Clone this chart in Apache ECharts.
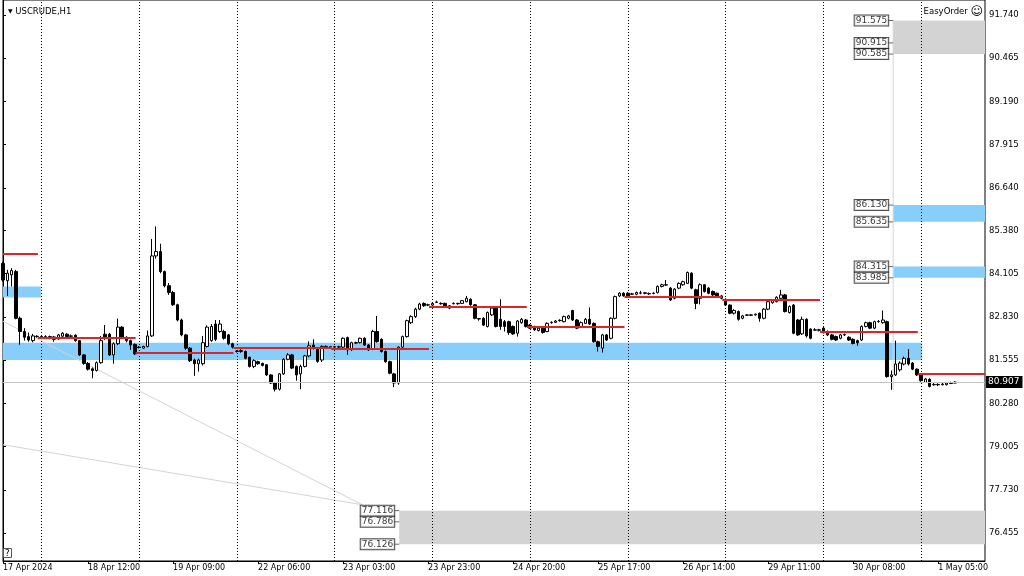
<!DOCTYPE html>
<html>
<head>
<meta charset="utf-8">
<script src="https://cdn.jsdelivr.net/npm/echarts@6/dist/echarts.min.js"></script>
<style>
  html, body { margin: 0; padding: 0; background: #fff; }
  #chart { width: 1024px; height: 576px; }
</style>
</head>
<body>
<div id="chart"></div>
<script>
// hourly candles, one array per trading day: [open, close, low, high]
const APR_17 = [
  [84.41, 83.92, 83.87, 84.46], [83.90, 84.12, 83.45, 84.22], [84.07, 84.20, 83.73, 84.27],
  [84.17, 82.79, 82.76, 84.22], [82.79, 82.40, 82.01, 82.84], [82.40, 82.23, 82.13, 82.50],
  [82.25, 82.15, 82.10, 82.37], [82.13, 82.27, 82.08, 82.33], [82.26, 82.25, 82.22, 82.29],
];
const APR_18 = [
  [82.25, 82.24, 82.20, 82.28], [82.24, 82.25, 82.21, 82.29], [82.25, 82.20, 82.17, 82.28],
  [82.24, 82.17, 82.10, 82.27], [82.18, 82.30, 82.16, 82.33], [82.26, 82.35, 82.24, 82.38],
  [82.32, 82.25, 82.22, 82.35], [82.26, 82.27, 82.22, 82.31], [82.29, 82.13, 82.10, 82.32],
  [82.13, 81.71, 81.68, 82.15], [81.71, 81.46, 81.42, 81.73], [81.46, 81.29, 81.25, 81.50],
  [81.30, 81.25, 81.02, 81.34], [81.25, 81.48, 81.22, 81.52], [81.48, 82.13, 81.45, 82.27],
  [82.32, 82.24, 82.15, 82.59], [82.32, 81.71, 81.68, 82.36], [81.71, 82.04, 81.45, 82.08],
  [82.04, 82.53, 82.00, 82.78], [82.53, 82.23, 82.20, 82.56], [82.23, 82.13, 82.08, 82.26],
  [82.13, 82.00, 81.86, 82.16], [82.02, 81.74, 81.71, 82.05],
];
const APR_19 = [
  [81.94, 81.93, 81.90, 81.97], [81.91, 81.96, 81.89, 81.98], [81.96, 82.27, 81.93, 82.43],
  [82.27, 84.63, 82.24, 85.13], [84.63, 84.76, 84.55, 85.50], [84.76, 84.17, 84.12, 84.99],
  [84.17, 83.75, 83.70, 84.20], [83.75, 83.55, 83.48, 83.83], [83.55, 83.19, 83.15, 83.60],
  [83.19, 82.74, 82.70, 83.22], [82.74, 82.30, 82.26, 82.78], [82.30, 81.91, 81.86, 82.33],
  [81.91, 81.54, 81.50, 81.94], [81.56, 81.45, 81.09, 81.60], [81.45, 81.56, 81.22, 81.60],
  [81.45, 82.07, 81.40, 82.27], [81.96, 82.53, 81.93, 82.58], [82.13, 82.55, 82.10, 82.62],
  [82.62, 82.17, 82.12, 82.74], [82.40, 82.62, 82.36, 82.74], [82.40, 82.20, 82.16, 82.45],
  [82.30, 82.04, 82.00, 82.33], [82.04, 81.94, 81.90, 82.07],
];
const APR_22 = [
  [81.82, 81.81, 81.78, 81.85], [81.81, 81.84, 81.77, 81.88], [81.81, 81.61, 81.58, 81.84],
  [81.64, 81.37, 81.34, 81.66], [81.37, 81.54, 81.32, 81.58], [81.51, 81.45, 81.42, 81.54],
  [81.46, 81.40, 81.37, 81.48], [81.42, 81.12, 81.09, 81.44], [81.12, 80.88, 80.85, 81.14],
  [80.88, 80.70, 80.63, 80.90], [80.70, 81.15, 80.66, 81.17], [81.15, 81.58, 81.12, 81.61],
  [81.58, 81.71, 81.55, 81.76], [81.71, 81.32, 81.29, 81.74], [81.37, 81.12, 80.95, 81.40],
  [81.15, 81.37, 80.70, 81.42], [81.37, 81.68, 81.34, 81.71], [81.68, 81.98, 81.64, 82.11],
  [82.00, 81.90, 81.87, 82.17], [81.91, 81.52, 81.48, 81.94], [81.56, 81.96, 81.50, 81.99],
  [81.93, 81.96, 81.91, 81.99], [81.95, 81.94, 81.92, 81.97],
];
const APR_23 = [
  [81.95, 81.94, 81.91, 81.97], [81.94, 81.95, 81.91, 81.98], [81.94, 82.20, 81.91, 82.23],
  [82.22, 81.86, 81.71, 82.25], [81.86, 82.07, 81.83, 82.10], [82.07, 82.06, 82.03, 82.10],
  [82.07, 82.20, 82.05, 82.22], [82.20, 82.00, 81.97, 82.23], [82.00, 81.86, 81.83, 82.03],
  [81.88, 82.40, 81.85, 82.45], [82.40, 82.10, 82.07, 82.86], [82.17, 81.81, 81.78, 82.20],
  [81.81, 81.51, 81.48, 81.84], [81.51, 81.17, 81.14, 81.54], [81.15, 80.88, 80.76, 81.18],
  [80.88, 81.94, 80.83, 81.96], [81.94, 82.25, 81.91, 82.28], [82.25, 82.72, 82.22, 82.75],
  [82.66, 82.84, 82.62, 82.88], [82.84, 83.06, 82.80, 83.10], [83.06, 83.21, 83.03, 83.25],
  [83.23, 83.16, 83.13, 83.26], [83.18, 83.19, 83.15, 83.22],
];
const APR_24 = [
  [83.18, 83.23, 83.16, 83.26], [83.26, 83.27, 83.24, 83.31], [83.23, 83.22, 83.19, 83.26],
  [83.23, 83.12, 83.09, 83.25], [83.09, 83.16, 83.06, 83.18], [83.22, 83.23, 83.20, 83.26],
  [83.23, 83.22, 83.19, 83.25], [83.23, 83.31, 83.21, 83.33], [83.28, 83.38, 83.26, 83.45],
  [83.35, 83.19, 83.16, 83.38], [83.19, 82.79, 82.76, 83.21], [82.78, 82.77, 82.72, 82.80],
  [82.79, 82.59, 82.56, 82.82], [82.55, 82.96, 82.52, 82.99], [82.89, 83.09, 82.86, 83.12],
  [83.09, 82.55, 82.52, 83.12], [82.76, 82.55, 82.45, 83.35], [82.69, 82.55, 82.40, 82.74],
  [82.69, 82.37, 82.30, 82.72], [82.55, 82.33, 82.30, 82.58], [82.35, 82.71, 82.25, 82.74],
  [82.66, 82.76, 82.63, 82.80], [82.74, 82.55, 82.52, 82.77],
];
const APR_25 = [
  [82.59, 82.50, 82.47, 82.62], [82.55, 82.45, 82.42, 82.57], [82.43, 82.50, 82.40, 82.53],
  [82.50, 82.37, 82.34, 82.52], [82.40, 82.64, 82.38, 82.67], [82.66, 82.67, 82.63, 82.70],
  [82.67, 82.71, 82.65, 82.74], [82.72, 82.73, 82.69, 82.76], [82.69, 82.84, 82.67, 82.87],
  [82.79, 82.86, 82.76, 82.89], [83.02, 82.74, 82.71, 83.04], [82.74, 82.50, 82.47, 82.77],
  [82.55, 82.66, 82.52, 82.70], [82.64, 82.76, 82.62, 82.80], [82.76, 82.62, 82.59, 83.11],
  [82.64, 82.10, 82.07, 82.67], [82.10, 81.96, 81.81, 82.13], [81.91, 82.30, 81.78, 82.33],
  [82.30, 82.15, 82.12, 82.33], [82.20, 82.79, 82.17, 82.82], [82.79, 83.43, 82.76, 83.46],
  [83.45, 83.53, 83.42, 83.56], [83.53, 83.45, 83.43, 83.56],
];
const APR_26 = [
  [83.53, 83.43, 83.40, 83.56], [83.50, 83.51, 83.48, 83.54], [83.50, 83.55, 83.47, 83.58],
  [83.53, 83.54, 83.50, 83.60], [83.54, 83.53, 83.50, 83.56], [83.52, 83.51, 83.48, 83.55],
  [83.52, 83.53, 83.50, 83.56], [83.55, 83.73, 83.52, 83.76], [83.73, 83.78, 83.70, 83.81],
  [83.78, 83.77, 83.74, 83.92], [83.68, 83.33, 83.30, 83.71], [83.38, 83.65, 83.35, 83.68],
  [83.68, 83.82, 83.65, 83.85], [83.78, 83.87, 83.75, 83.90], [83.82, 84.14, 83.80, 84.17],
  [84.12, 83.68, 83.65, 84.15], [83.63, 83.23, 83.06, 83.66], [83.38, 83.78, 83.20, 83.82],
  [83.78, 83.58, 83.55, 83.80], [83.68, 83.53, 83.50, 83.71], [83.58, 83.48, 83.45, 83.61],
  [83.53, 83.43, 83.40, 83.55], [83.45, 83.38, 83.35, 83.48],
];
const APR_29 = [
  [83.35, 83.18, 83.15, 83.38], [83.18, 82.94, 82.91, 83.20], [82.94, 83.02, 82.90, 83.06],
  [82.99, 82.76, 82.72, 83.02], [82.79, 82.86, 82.76, 82.89], [82.88, 82.89, 82.86, 82.91],
  [82.89, 82.88, 82.86, 82.91], [82.89, 82.91, 82.87, 82.93], [82.94, 82.79, 82.69, 82.96],
  [82.79, 83.06, 82.76, 83.09], [83.06, 83.28, 83.03, 83.31], [83.25, 83.33, 83.22, 83.36],
  [83.28, 83.41, 83.26, 83.44], [83.38, 83.48, 83.35, 83.63], [83.48, 82.99, 82.96, 83.51],
  [82.96, 83.14, 82.93, 83.17], [83.18, 82.35, 82.32, 83.21], [82.74, 82.30, 82.27, 82.77],
  [82.33, 82.76, 82.30, 82.84], [82.76, 82.27, 82.22, 82.79], [82.47, 82.20, 82.17, 82.50],
  [82.44, 82.45, 82.42, 82.50], [82.45, 82.44, 82.40, 82.48],
];
const APR_30 = [
  [82.50, 82.37, 82.34, 82.53], [82.40, 82.30, 82.27, 82.43], [82.30, 82.17, 82.14, 82.33],
  [82.25, 82.15, 82.12, 82.28], [82.20, 82.30, 82.17, 82.33], [82.30, 82.31, 82.27, 82.34],
  [82.23, 82.15, 82.12, 82.26], [82.17, 82.05, 82.02, 82.20], [82.13, 82.07, 81.98, 82.16],
  [82.15, 82.55, 82.12, 82.58], [82.55, 82.66, 82.52, 82.69], [82.66, 82.50, 82.47, 82.69],
  [82.50, 82.69, 82.47, 82.72], [82.69, 82.70, 82.66, 82.74], [82.66, 82.74, 82.63, 83.02],
  [82.69, 81.07, 81.04, 82.72], [81.07, 81.12, 80.68, 81.25], [81.12, 81.44, 81.09, 82.13],
  [81.27, 81.47, 81.22, 81.52], [81.44, 81.61, 81.40, 81.66], [81.61, 81.44, 81.40, 81.88],
  [81.47, 81.29, 81.26, 81.50], [81.29, 81.12, 81.09, 81.31],
];
const MAY_01 = [
  [81.12, 80.95, 80.92, 81.14], [80.90, 81.00, 80.88, 81.03], [80.99, 80.78, 80.75, 81.02],
  [80.83, 80.84, 80.80, 80.88], [80.84, 80.83, 80.79, 80.87], [80.83, 80.85, 80.81, 80.88],
  [80.83, 80.88, 80.81, 80.91], [80.88, 80.87, 80.85, 80.92], [80.88, 80.907, 80.87, 80.93],
];

const SLOT_COUNT = 232;
const LABEL_EVERY = 20;
const TIME_LABELS = [
  "17 Apr 2024", "18 Apr 12:00", "19 Apr 09:00", "22 Apr 06:00", "23 Apr 03:00", "23 Apr 23:00",
  "24 Apr 20:00", "25 Apr 17:00", "26 Apr 14:00", "29 Apr 11:00", "30 Apr 08:00", "1 May 05:00",
];
const PRICE_TICKS = [91.740, 90.465, 89.190, 87.915, 86.640, 85.380, 84.105, 82.830, 81.555, 80.280, 79.005, 77.730, 76.455];
const PRICE_MIN = 75.63;
const PRICE_MAX = 92.18;
const CURRENT_PRICE = 80.907;

// first bar of each new day (period separators) and the level drawn for each day
const DAY_STARTS = [9, 32, 55, 78, 101, 124, 147, 170, 193, 216];
const DAY_LEVELS = [84.68, 82.23, 81.76, 81.93, 81.90, 83.13, 82.55, 83.43, 83.33, 82.40, 81.14];

// zones: [from bar, to bar, upper price, lower price]
const BLUE_ZONES = [
  [0, 8.9, 83.73, 83.40],
  [0, 216.2, 82.07, 81.56],
  [209.4, 231, 86.130, 85.635],
  [209.4, 231, 84.315, 83.985],
];
const GRAY_ZONES = [
  [209.4, 231, 91.575, 90.585],
  [93.2, 231, 77.116, 76.126],
];
const ZONE_PRICES = [
  [209.4, 91.575], [209.4, 90.915], [209.4, 90.585],
  [209.4, 86.130], [209.4, 85.635], [209.4, 84.315], [209.4, 83.985],
  [93.2, 77.116], [93.2, 76.786], [93.2, 76.126],
];
const THIN_LINES = [
  [[0, 82.70], [84.5, 77.29]],
  [[0, 79.06], [84.5, 77.29]],
  [[209.4, 91.575], [209.4, 80.68]],
];

const FONT = "DejaVu Sans";
const candles = [].concat(APR_17, APR_18, APR_19, APR_22, APR_23, APR_24, APR_25, APR_26, APR_29, APR_30, MAY_01);
const slots = Array.from({ length: SLOT_COUNT }, (_, i) => String(i));

function zoneAreas(zones) {
  return zones.map(([x0, x1, top, bottom]) => [{ coord: [x0, top] }, { coord: [x1, bottom] }]);
}

function levelSegments() {
  return DAY_LEVELS.map((level, k) => {
    const from = k === 0 ? 0 : DAY_STARTS[k - 1] - 0.8;
    const to = k < DAY_STARTS.length ? DAY_STARTS[k] - 0.8 : SLOT_COUNT - 1;
    return [{ coord: [from, level] }, { coord: [to, level] }];
  });
}

const chart = echarts.init(document.getElementById("chart"));

chart.setOption({
  animation: false,
  backgroundColor: "#fff",
  title: [
    {
      text: "{t|▼} USCRUDE,H1",
      left: 3,
      top: 2,
      textStyle: {
        fontFamily: FONT, fontSize: 8.5, fontWeight: "normal", color: "#000",
        rich: { t: { fontFamily: FONT, fontSize: 6, color: "#000" } },
      },
    },
    {
      text: "EasyOrder {s|☺}",
      right: 36,
      top: 1,
      textStyle: {
        fontFamily: FONT, fontSize: 8.5, fontWeight: "normal", color: "#000",
        rich: { s: { fontFamily: FONT, fontSize: 12, color: "#000" } },
      },
    },
    {
      text: "?",
      left: 3,
      top: 548,
      padding: [1, 2, 0, 2],
      borderWidth: 1,
      borderColor: "#555",
      textStyle: { fontFamily: FONT, fontSize: 9, fontWeight: "normal", color: "#000" },
    },
  ],
  grid: {
    left: 2, right: 39, top: 0, bottom: 15,
    show: true, borderColor: "#000", borderWidth: 1, backgroundColor: "#fff",
  },
  xAxis: [
    {
      type: "category",
      data: slots,
      boundaryGap: false,
      axisLine: { lineStyle: { color: "#000" } },
      axisTick: {
        alignWithLabel: true,
        length: 3,
        interval: (index) => index % LABEL_EVERY === 0,
        lineStyle: { color: "#000" },
      },
      axisLabel: {
        interval: (index) => index % LABEL_EVERY === 0,
        formatter: (value, index) => TIME_LABELS[index / LABEL_EVERY] || "",
        align: "left",
        margin: 3,
        fontFamily: FONT,
        fontSize: 8,
        color: "#000",
      },
      splitLine: { show: false },
    },
    {
      type: "value",
      min: 0,
      max: SLOT_COUNT - 1,
      show: false,
    },
  ],
  yAxis: {
    type: "value",
    position: "right",
    min: PRICE_MIN,
    max: PRICE_MAX,
    scale: true,
    axisLine: { show: true, lineStyle: { color: "#000" } },
    axisTick: { show: true, length: 3, customValues: PRICE_TICKS, lineStyle: { color: "#000" } },
    axisLabel: {
      customValues: PRICE_TICKS,
      formatter: (value) => value.toFixed(3),
      margin: 4,
      fontFamily: FONT,
      fontSize: 8.5,
      color: "#000",
    },
    splitLine: { show: false },
  },
  series: [
    {
      type: "line",
      xAxisIndex: 1,
      data: [],
      z: 1,
      silent: true,
      markArea: {
        silent: true,
        label: { show: false },
        itemStyle: { color: "#87cefa", opacity: 1 },
        data: zoneAreas(BLUE_ZONES),
      },
    },
    {
      type: "line",
      xAxisIndex: 1,
      data: [],
      z: 1,
      silent: true,
      markArea: {
        silent: true,
        label: { show: false },
        itemStyle: { color: "#d3d3d3", opacity: 1 },
        data: zoneAreas(GRAY_ZONES),
      },
    },
    {
      type: "line",
      xAxisIndex: 1,
      data: [],
      z: 2,
      silent: true,
      markLine: {
        silent: true,
        symbol: "none",
        label: { show: false },
        lineStyle: { color: "#000", width: 1, type: [1, 2] },
        data: DAY_STARTS.map((start) => ({ xAxis: start })),
      },
    },
    ...THIN_LINES.map((points) => ({
      type: "line",
      xAxisIndex: 1,
      data: points,
      z: 2,
      silent: true,
      symbol: "none",
      lineStyle: { color: "#d4d4d4", width: 1 },
    })),
    {
      type: "line",
      xAxisIndex: 1,
      data: [],
      z: 2,
      silent: true,
      markLine: {
        silent: true,
        symbol: "none",
        lineStyle: { color: "#c4c4c4", width: 1, type: "solid" },
        label: {
          show: true,
          position: "end",
          distance: 1,
          formatter: () => CURRENT_PRICE.toFixed(3),
          fontFamily: FONT,
          fontSize: 9,
          color: "#fff",
          backgroundColor: "#000",
          padding: [2, 3, 1, 2],
        },
        data: [{ yAxis: CURRENT_PRICE }],
      },
    },
    {
      type: "candlestick",
      xAxisIndex: 0,
      data: candles,
      z: 3,
      barWidth: 3,
      itemStyle: {
        color: "#fff",
        color0: "#000",
        borderColor: "#000",
        borderColor0: "#000",
        borderColorDoji: "#000",
        borderWidth: 1,
      },
    },
    {
      type: "line",
      xAxisIndex: 1,
      data: [],
      z: 4,
      silent: true,
      markLine: {
        silent: true,
        symbol: "none",
        label: { show: false },
        lineStyle: { color: "#d9262b", width: 2, type: "solid" },
        data: levelSegments(),
      },
    },
    {
      type: "scatter",
      xAxisIndex: 1,
      data: ZONE_PRICES,
      z: 5,
      silent: true,
      symbol: "rect",
      symbolSize: [5, 1],
      symbolOffset: [-2.5, 0],
      itemStyle: { color: "#444" },
      label: {
        show: true,
        position: "left",
        distance: 0,
        formatter: (p) => p.value[1].toFixed(3),
        fontFamily: FONT,
        fontSize: 9,
        lineHeight: 10,
        color: "#000",
        backgroundColor: "#fff",
        borderColor: "#222",
        borderWidth: 1,
        padding: [0, 1, 0, 1],
      },
    },
  ],
});
</script>
</body>
</html>
